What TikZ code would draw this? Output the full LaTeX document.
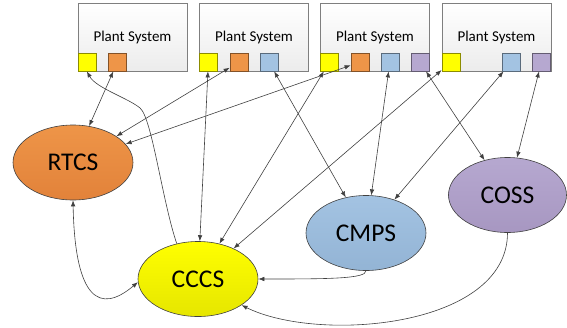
\documentclass[tikz,border=0pt]{standalone}
\usepackage{fontspec}
\setmainfont{Carlito}
\usetikzlibrary{arrows.meta,shapes.geometric,positioning}
\definecolor{linie}{HTML}{404040}
\definecolor{rahmen}{HTML}{7F7F7F}
\definecolor{boxgrau}{HTML}{ECECEC}
\definecolor{gelb}{HTML}{FFFF00}
\definecolor{gelbd}{HTML}{E6E600}
\definecolor{orng}{HTML}{EE9548}
\definecolor{orngd}{HTML}{E2823A}
\definecolor{blau}{HTML}{A3C3E2}
\definecolor{blaud}{HTML}{93B4D5}
\definecolor{lila}{HTML}{B6A8D0}
\definecolor{lilad}{HTML}{A797C1}
\tikzset{
  plant/.style={draw=rahmen,line width=0.8pt,top color=white,bottom color=boxgrau,
    minimum width=109pt,minimum height=68pt,inner sep=0pt,font=\fontsize{15}{17}\selectfont},
  slot/.style={draw=#1!55!black,fill=#1,minimum size=18pt,inner sep=0pt,
    anchor=south west,line width=0.6pt},
  sys/.style={ellipse,draw=linie,line width=0.6pt,minimum width=120pt,minimum height=75pt,
    inner sep=0pt,font=\fontsize{25.5}{28}\selectfont},
  con/.style={-{Latex[length=6pt,width=4.5pt]},linie,line width=0.6pt},
  bicon/.style={{Latex[length=6pt,width=4.5pt]}-{Latex[length=6pt,width=4.5pt]},linie,line width=0.6pt},
}

\begin{document}
\begin{tikzpicture}[x=1pt,y=-1pt]
  \useasboundingbox (0,0) rectangle (567,327);
  % plant systems
  \node[plant] (p1) at (132.5,37) {Plant System};
  \node[plant] (p2) at (254,37) {Plant System};
  \node[plant] (p3) at (375,37) {Plant System};
  \node[plant] (p4) at (496.5,37) {Plant System};
  \node[slot=gelb] (p1y) at (p1.south west) {};
  \node[slot=orng] (p1o) at ([xshift=30.5pt]p1.south west) {};
  \node[slot=gelb] (p2y) at (p2.south west) {};
  \node[slot=orng] (p2o) at ([xshift=30.5pt]p2.south west) {};
  \node[slot=blau] (p2b) at ([xshift=60.5pt]p2.south west) {};
  \node[slot=gelb] (p3y) at (p3.south west) {};
  \node[slot=orng] (p3o) at ([xshift=30.5pt]p3.south west) {};
  \node[slot=blau] (p3b) at ([xshift=60.5pt]p3.south west) {};
  \node[slot=lila] (p3l) at ([xshift=90.5pt]p3.south west) {};
  \node[slot=gelb] (p4y) at (p4.south west) {};
  \node[slot=blau] (p4b) at ([xshift=60.5pt]p4.south west) {};
  \node[slot=lila] (p4l) at ([xshift=90.5pt]p4.south west) {};
  % central systems
  \node[sys,top color=orng,bottom color=orngd] (rtcs) at (73,162.5) {RTCS};
  \node[sys,top color=gelb,bottom color=gelbd] (cccs) at (198,279) {CCCS};
  \node[sys,top color=blau,bottom color=blaud] (cmps) at (366,233) {CMPS};
  \node[sys,top color=lila,bottom color=lilad,minimum width=118pt] (coss) at (507.5,195) {COSS};
  % links
  \draw[bicon] (p1o) -- (rtcs);
  \draw[bicon] (p2o) -- (rtcs);
  \draw[bicon] (p3o) -- (rtcs);
  \draw[bicon] (p2y) -- (cccs);
  \draw[bicon] (p3y) -- (cccs);
  \draw[bicon] (p4y) -- (cccs);
  \draw[bicon] (p2b) -- (cmps);
  \draw[bicon] (p3b) -- (cmps);
  \draw[bicon] (p4b) -- (cmps);
  \draw[bicon] (p3l) -- (coss);
  \draw[bicon] (p4l) -- (coss);
  \draw[con] (cccs.121) .. controls (162,200) and (152,118) .. (140,108)
    .. controls (128,98) and (96,88) .. (p1y.south);
  \draw[bicon] (rtcs.south) .. controls +(2,100) and +(-38,32) .. (cccs.183);
  \draw[con] (cmps.south) .. controls +(0,8) and +(70,0) .. (cccs.east);
  \draw[con] (coss.south) .. controls +(0,95) and +(77,38) .. (cccs.-31);
\end{tikzpicture}
\end{document}
